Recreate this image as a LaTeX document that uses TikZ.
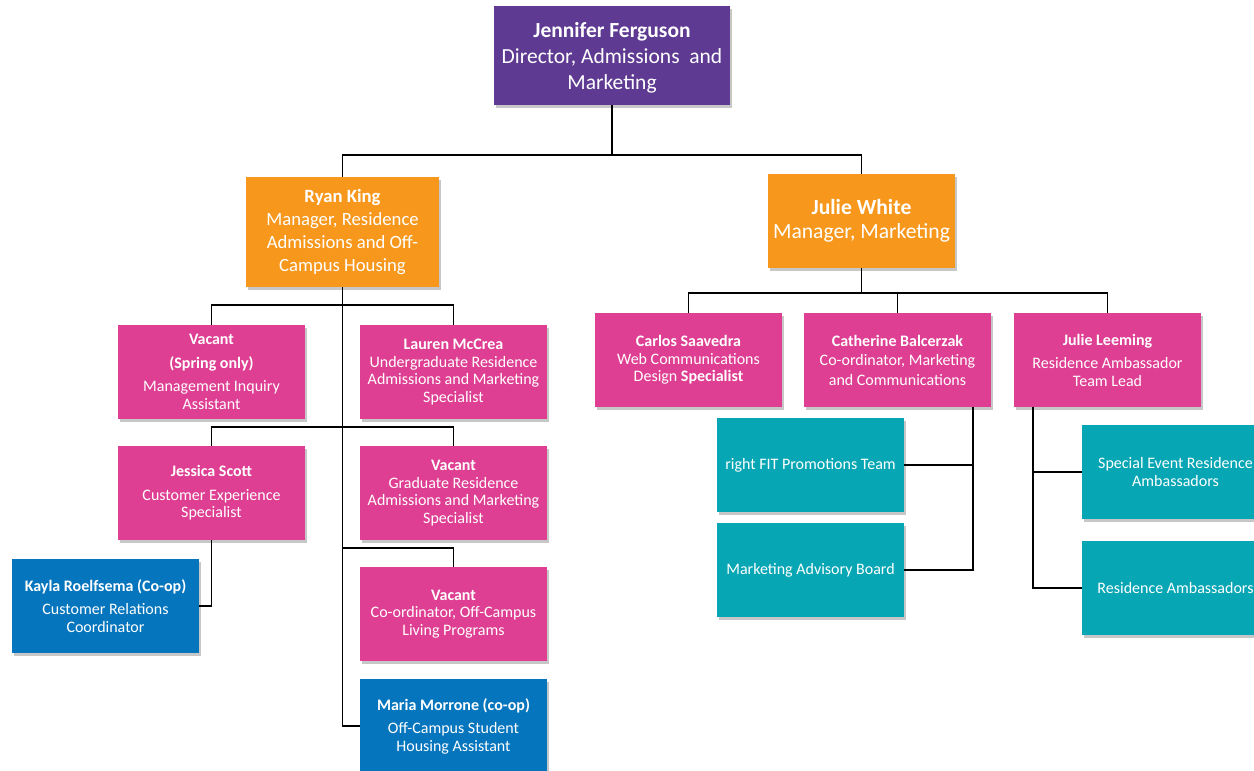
\documentclass[tikz,border=0pt]{standalone}
\usepackage{fontspec}
\setmainfont{Carlito}
\usetikzlibrary{shadows}
\definecolor{cpurple}{HTML}{5E3A92}
\definecolor{corange}{HTML}{F7981D}
\definecolor{cpink}{HTML}{DE3F92}
\definecolor{cblue}{HTML}{0575BD}
\definecolor{cteal}{HTML}{07A6B4}
\tikzset{
  box/.style={rectangle, text=white, align=center, inner sep=2pt,
    minimum width=187pt, minimum height=94pt,
    drop shadow={shadow xshift=2pt, shadow yshift=-3pt, opacity=0.22, fill=black},
    font=\fontsize{16}{17.5}\selectfont},
  pinkbox/.style={box, fill=cpink},
  bluebox/.style={box, fill=cblue},
  tealbox/.style={box, fill=cteal},
  link/.style={draw=black, line width=1.8pt}
}
\begin{document}
\begin{tikzpicture}[x=1pt,y=-1pt]
\useasboundingbox (0,0) rectangle (1254,771);
% nodes
\node[box, fill=cpurple, minimum width=236pt, minimum height=99pt] (jf) at (612,55.5) {};
\node[text=white, align=center, font=\fontsize{21.5}{26}\selectfont] (jft) at (612,58)
  {\textbf{Jennifer Ferguson}\\Director, Admissions\ \ and\\Marketing};
\node[box, fill=corange, minimum width=193pt, minimum height=110pt,
  font=\fontsize{18.7}{23}\selectfont] (rk) at (342.5,232)
  {\textbf{Ryan King}\\Manager, Residence\\Admissions and Off-\\Campus Housing};
\node[box, fill=corange, minimum width=187pt, minimum height=94pt,
  font=\fontsize{21.6}{24}\selectfont] (jw) at (861.5,221)
  {\textbf{Julie White}\\Manager, Marketing};
\node[pinkbox] (v1) at (211.5,372)
  {\textbf{Vacant}\\[6pt]\textbf{(Spring only)}\\[6pt]Management Inquiry\\Assistant};
\node[pinkbox] (lm) at (453.5,372)
  {\textbf{Lauren McCrea}\\Undergraduate Residence\\Admissions and Marketing\\Specialist};
\node[pinkbox] (js) at (211.5,493)
  {\textbf{Jessica Scott}\\[6pt]Customer Experience\\Specialist};
\node[pinkbox] (vg) at (453.5,493)
  {\textbf{Vacant}\\Graduate Residence\\Admissions and Marketing\\Specialist};
\node[bluebox] (kr) at (105.5,606)
  {\textbf{Kayla Roelfsema (Co-op)}\\[6pt]Customer Relations\\Coordinator};
\node[pinkbox] (vc) at (453.5,614)
  {\textbf{Vacant}\\Co-ordinator, Off-Campus\\Living Programs};
\node[bluebox] (mm) at (453.5,726)
  {\textbf{Maria Morrone (co-op)}\\[6pt]Off-Campus Student\\Housing Assistant};
\node[pinkbox] (cs) at (688.5,360)
  {\textbf{Carlos Saavedra}\\Web Communications\\Design \textbf{Specialist}};
\node[pinkbox] (cb) at (897.5,360)
  {\textbf{Catherine Balcerzak}\\[2pt]Co-ordinator, Marketing\\[2pt]and Communications};
\node[pinkbox] (jl) at (1107.5,360)
  {\textbf{Julie Leeming}\\[6pt]Residence Ambassador\\Team Lead};
\node[tealbox] (rf) at (810.5,465) {right FIT Promotions Team};
\node[tealbox] (ma) at (810.5,570) {Marketing Advisory Board};
\node[tealbox] (se) at (1175.5,472) {Special Event Residence\\Ambassadors};
\node[tealbox] (ra) at (1175.5,588) {Residence Ambassadors};
% helper coordinates
\coordinate (b1) at (612,155);
\coordinate (r1) at (342.5,305);
\coordinate (r2) at (342.5,427);
\coordinate (r3) at (342.5,548);
\coordinate (w1) at (861.5,293);
\coordinate (c1) at (973,407);
\coordinate (l1) at (1033,407);
% connectors
\draw[link] (jf.south) -- (b1);
\draw[link] (rk.north) |- (b1) -| (jw.north);
\draw[link] (rk.south) |- (mm.west);
\draw[link] (v1.north) |- (r1) -| (lm.north);
\draw[link] (js.north) |- (r2) -| (vg.north);
\draw[link] (r3) -| (vc.north);
\draw[link] (js.south) |- (kr.east);
\draw[link] (jw.south) -- (w1);
\draw[link] (cs.north) |- (w1) -| (jl.north);
\draw[link] (w1) -| (cb.north);
\draw[link] (c1) |- (ma.east);
\draw[link] (rf.east) -- (rf.east -| c1);
\draw[link] (l1) |- (ra.west);
\draw[link] (se.west) -- (se.west -| l1);
\end{tikzpicture}
\end{document}
